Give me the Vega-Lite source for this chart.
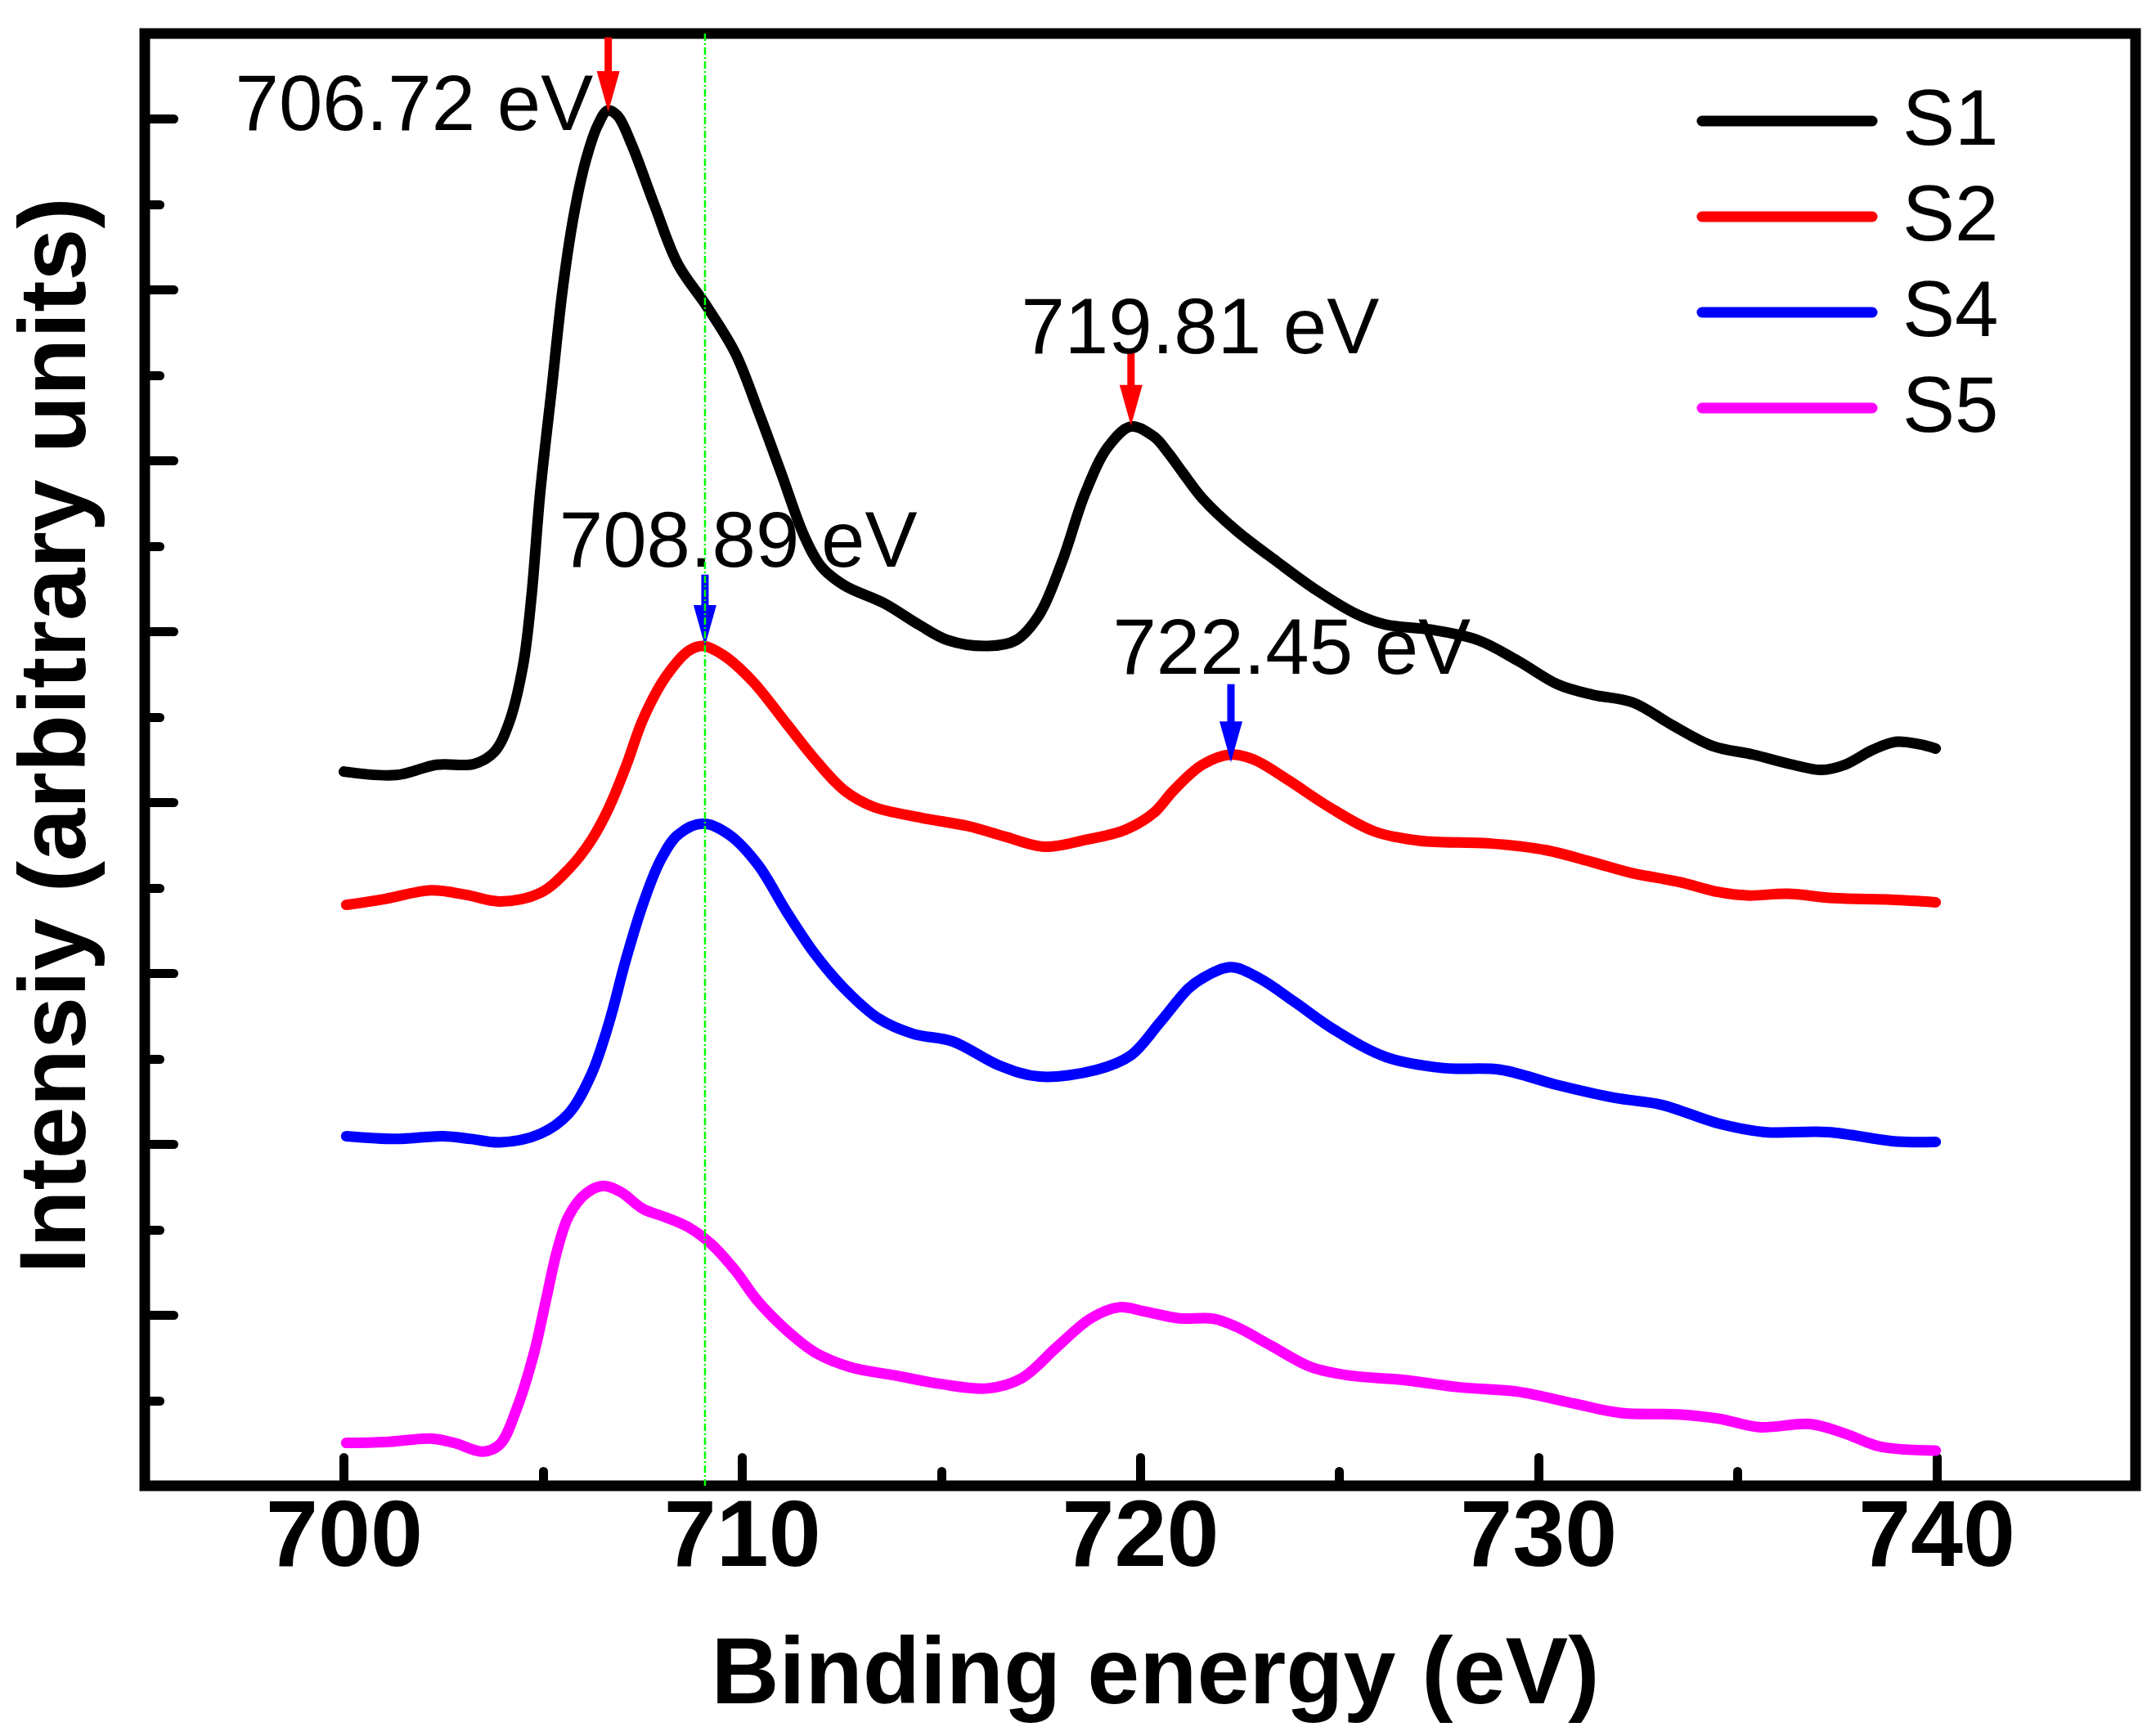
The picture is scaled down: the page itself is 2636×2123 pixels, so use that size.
{
  "$schema": "https://vega.github.io/schema/vega-lite/v6.json",
  "width": 2434,
  "height": 1776,
  "autosize": {"type": "none"},
  "padding": {"left": 177, "top": 41, "right": 25, "bottom": 306},
  "background": "white",
  "config": {
    "view": {"stroke": "black", "strokeWidth": 13},
    "axis": {"grid": false, "domain": false, "tickColor": "black", "tickWidth": 11, "tickCap": "round"}
  },
  "datasets": {
    "curves": [
      {"sample": "S1", "energy": 700.0, "intensity": 4.18},
      {"sample": "S1", "energy": 701.32, "intensity": 4.16},
      {"sample": "S1", "energy": 702.33, "intensity": 4.22},
      {"sample": "S1", "energy": 703.27, "intensity": 4.225},
      {"sample": "S1", "energy": 703.78, "intensity": 4.295},
      {"sample": "S1", "energy": 704.14, "intensity": 4.46},
      {"sample": "S1", "energy": 704.5, "intensity": 4.8},
      {"sample": "S1", "energy": 704.71, "intensity": 5.2},
      {"sample": "S1", "energy": 704.93, "intensity": 5.81},
      {"sample": "S1", "energy": 705.22, "intensity": 6.42},
      {"sample": "S1", "energy": 705.51, "intensity": 7.03},
      {"sample": "S1", "energy": 705.79, "intensity": 7.455},
      {"sample": "S1", "energy": 706.08, "intensity": 7.76},
      {"sample": "S1", "energy": 706.37, "intensity": 7.96},
      {"sample": "S1", "energy": 706.63, "intensity": 8.05},
      {"sample": "S1", "energy": 706.87, "intensity": 8.02},
      {"sample": "S1", "energy": 707.23, "intensity": 7.85},
      {"sample": "S1", "energy": 707.81, "intensity": 7.49},
      {"sample": "S1", "energy": 708.39, "intensity": 7.15},
      {"sample": "S1", "energy": 709.11, "intensity": 6.905},
      {"sample": "S1", "energy": 709.83, "intensity": 6.63},
      {"sample": "S1", "energy": 710.4, "intensity": 6.295},
      {"sample": "S1", "energy": 710.98, "intensity": 5.93},
      {"sample": "S1", "energy": 711.56, "intensity": 5.56},
      {"sample": "S1", "energy": 711.99, "intensity": 5.38},
      {"sample": "S1", "energy": 712.57, "intensity": 5.27},
      {"sample": "S1", "energy": 713.57, "intensity": 5.165},
      {"sample": "S1", "energy": 714.44, "intensity": 5.04},
      {"sample": "S1", "energy": 715.16, "intensity": 4.95},
      {"sample": "S1", "energy": 716.17, "intensity": 4.915},
      {"sample": "S1", "energy": 716.89, "intensity": 4.95},
      {"sample": "S1", "energy": 717.47, "intensity": 5.1},
      {"sample": "S1", "energy": 718.04, "intensity": 5.41},
      {"sample": "S1", "energy": 718.62, "intensity": 5.81},
      {"sample": "S1", "energy": 719.19, "intensity": 6.08},
      {"sample": "S1", "energy": 719.77, "intensity": 6.2},
      {"sample": "S1", "energy": 720.35, "intensity": 6.14},
      {"sample": "S1", "energy": 720.69, "intensity": 6.05},
      {"sample": "S1", "energy": 721.07, "intensity": 5.93},
      {"sample": "S1", "energy": 721.56, "intensity": 5.78},
      {"sample": "S1", "energy": 722.42, "intensity": 5.59},
      {"sample": "S1", "energy": 723.43, "intensity": 5.41},
      {"sample": "S1", "energy": 724.44, "intensity": 5.24},
      {"sample": "S1", "energy": 725.45, "intensity": 5.1},
      {"sample": "S1", "energy": 726.17, "intensity": 5.04},
      {"sample": "S1", "energy": 727.32, "intensity": 5.01},
      {"sample": "S1", "energy": 728.48, "intensity": 4.95},
      {"sample": "S1", "energy": 729.48, "intensity": 4.83},
      {"sample": "S1", "energy": 730.49, "intensity": 4.69},
      {"sample": "S1", "energy": 731.36, "intensity": 4.63},
      {"sample": "S1", "energy": 732.37, "intensity": 4.585},
      {"sample": "S1", "energy": 733.38, "intensity": 4.45},
      {"sample": "S1", "energy": 734.38, "intensity": 4.33},
      {"sample": "S1", "energy": 735.39, "intensity": 4.28},
      {"sample": "S1", "energy": 736.4, "intensity": 4.22},
      {"sample": "S1", "energy": 737.12, "intensity": 4.19},
      {"sample": "S1", "energy": 737.7, "intensity": 4.22},
      {"sample": "S1", "energy": 738.42, "intensity": 4.31},
      {"sample": "S1", "energy": 739.0, "intensity": 4.355},
      {"sample": "S1", "energy": 739.57, "intensity": 4.34},
      {"sample": "S1", "energy": 739.98, "intensity": 4.315},

      {"sample": "S2", "energy": 700.06, "intensity": 3.4},
      {"sample": "S2", "energy": 701.04, "intensity": 3.435},
      {"sample": "S2", "energy": 702.19, "intensity": 3.485},
      {"sample": "S2", "energy": 703.05, "intensity": 3.46},
      {"sample": "S2", "energy": 703.92, "intensity": 3.42},
      {"sample": "S2", "energy": 704.93, "intensity": 3.47},
      {"sample": "S2", "energy": 705.65, "intensity": 3.61},
      {"sample": "S2", "energy": 706.22, "intensity": 3.78},
      {"sample": "S2", "energy": 706.66, "intensity": 3.97},
      {"sample": "S2", "energy": 707.1, "intensity": 4.22},
      {"sample": "S2", "energy": 707.52, "intensity": 4.49},
      {"sample": "S2", "energy": 708.1, "intensity": 4.74},
      {"sample": "S2", "energy": 708.68, "intensity": 4.89},
      {"sample": "S2", "energy": 709.03, "intensity": 4.915},
      {"sample": "S2", "energy": 709.54, "intensity": 4.86},
      {"sample": "S2", "energy": 710.26, "intensity": 4.71},
      {"sample": "S2", "energy": 711.12, "intensity": 4.46},
      {"sample": "S2", "energy": 711.84, "intensity": 4.25},
      {"sample": "S2", "energy": 712.57, "intensity": 4.07},
      {"sample": "S2", "energy": 713.29, "intensity": 3.975},
      {"sample": "S2", "energy": 714.5, "intensity": 3.91},
      {"sample": "S2", "energy": 715.7, "intensity": 3.86},
      {"sample": "S2", "energy": 716.6, "intensity": 3.8},
      {"sample": "S2", "energy": 717.6, "intensity": 3.74},
      {"sample": "S2", "energy": 718.62, "intensity": 3.78},
      {"sample": "S2", "energy": 719.63, "intensity": 3.84},
      {"sample": "S2", "energy": 720.35, "intensity": 3.94},
      {"sample": "S2", "energy": 720.84, "intensity": 4.07},
      {"sample": "S2", "energy": 721.56, "intensity": 4.22},
      {"sample": "S2", "energy": 722.28, "intensity": 4.28},
      {"sample": "S2", "energy": 722.86, "intensity": 4.25},
      {"sample": "S2", "energy": 723.72, "intensity": 4.13},
      {"sample": "S2", "energy": 724.73, "intensity": 3.975},
      {"sample": "S2", "energy": 725.88, "intensity": 3.83},
      {"sample": "S2", "energy": 727.03, "intensity": 3.775},
      {"sample": "S2", "energy": 728.76, "intensity": 3.76},
      {"sample": "S2", "energy": 730.2, "intensity": 3.72},
      {"sample": "S2", "energy": 731.36, "intensity": 3.65},
      {"sample": "S2", "energy": 732.37, "intensity": 3.585},
      {"sample": "S2", "energy": 733.52, "intensity": 3.535},
      {"sample": "S2", "energy": 734.53, "intensity": 3.475},
      {"sample": "S2", "energy": 735.25, "intensity": 3.455},
      {"sample": "S2", "energy": 736.26, "intensity": 3.465},
      {"sample": "S2", "energy": 737.41, "intensity": 3.44},
      {"sample": "S2", "energy": 738.85, "intensity": 3.43},
      {"sample": "S2", "energy": 739.98, "intensity": 3.415},

      {"sample": "S4", "energy": 700.06, "intensity": 2.046},
      {"sample": "S4", "energy": 701.32, "intensity": 2.03},
      {"sample": "S4", "energy": 702.48, "intensity": 2.046},
      {"sample": "S4", "energy": 703.2, "intensity": 2.03},
      {"sample": "S4", "energy": 703.92, "intensity": 2.01},
      {"sample": "S4", "energy": 704.93, "intensity": 2.06},
      {"sample": "S4", "energy": 705.65, "intensity": 2.18},
      {"sample": "S4", "energy": 706.22, "intensity": 2.41},
      {"sample": "S4", "energy": 706.66, "intensity": 2.71},
      {"sample": "S4", "energy": 707.09, "intensity": 3.085},
      {"sample": "S4", "energy": 707.52, "intensity": 3.41},
      {"sample": "S4", "energy": 707.95, "intensity": 3.66},
      {"sample": "S4", "energy": 708.39, "intensity": 3.81},
      {"sample": "S4", "energy": 709.03, "intensity": 3.875},
      {"sample": "S4", "energy": 709.68, "intensity": 3.81},
      {"sample": "S4", "energy": 710.4, "intensity": 3.635},
      {"sample": "S4", "energy": 711.12, "intensity": 3.36},
      {"sample": "S4", "energy": 711.84, "intensity": 3.11},
      {"sample": "S4", "energy": 712.57, "intensity": 2.91},
      {"sample": "S4", "energy": 713.43, "intensity": 2.735},
      {"sample": "S4", "energy": 714.3, "intensity": 2.645},
      {"sample": "S4", "energy": 715.3, "intensity": 2.6},
      {"sample": "S4", "energy": 716.46, "intensity": 2.46},
      {"sample": "S4", "energy": 717.47, "intensity": 2.395},
      {"sample": "S4", "energy": 718.91, "intensity": 2.435},
      {"sample": "S4", "energy": 719.77, "intensity": 2.52},
      {"sample": "S4", "energy": 720.49, "intensity": 2.71},
      {"sample": "S4", "energy": 721.21, "intensity": 2.91},
      {"sample": "S4", "energy": 721.56, "intensity": 2.97},
      {"sample": "S4", "energy": 722.28, "intensity": 3.035},
      {"sample": "S4", "energy": 723.0, "intensity": 2.97},
      {"sample": "S4", "energy": 723.86, "intensity": 2.835},
      {"sample": "S4", "energy": 724.87, "intensity": 2.67},
      {"sample": "S4", "energy": 726.17, "intensity": 2.51},
      {"sample": "S4", "energy": 727.61, "intensity": 2.445},
      {"sample": "S4", "energy": 729.05, "intensity": 2.435},
      {"sample": "S4", "energy": 730.49, "intensity": 2.345},
      {"sample": "S4", "energy": 731.93, "intensity": 2.27},
      {"sample": "S4", "energy": 733.09, "intensity": 2.23},
      {"sample": "S4", "energy": 734.53, "intensity": 2.12},
      {"sample": "S4", "energy": 735.68, "intensity": 2.07},
      {"sample": "S4", "energy": 737.27, "intensity": 2.07},
      {"sample": "S4", "energy": 739.0, "intensity": 2.015},
      {"sample": "S4", "energy": 739.98, "intensity": 2.013},

      {"sample": "S5", "energy": 700.06, "intensity": 0.251},
      {"sample": "S5", "energy": 701.04, "intensity": 0.256},
      {"sample": "S5", "energy": 702.19, "intensity": 0.276},
      {"sample": "S5", "energy": 702.77, "intensity": 0.251},
      {"sample": "S5", "energy": 703.49, "intensity": 0.2},
      {"sample": "S5", "energy": 703.92, "intensity": 0.243},
      {"sample": "S5", "energy": 704.35, "intensity": 0.456},
      {"sample": "S5", "energy": 704.78, "intensity": 0.78},
      {"sample": "S5", "energy": 705.07, "intensity": 1.08},
      {"sample": "S5", "energy": 705.36, "intensity": 1.38},
      {"sample": "S5", "energy": 705.65, "intensity": 1.58},
      {"sample": "S5", "energy": 706.08, "intensity": 1.71},
      {"sample": "S5", "energy": 706.51, "intensity": 1.755},
      {"sample": "S5", "energy": 706.95, "intensity": 1.72},
      {"sample": "S5", "energy": 707.52, "intensity": 1.62},
      {"sample": "S5", "energy": 708.1, "intensity": 1.57},
      {"sample": "S5", "energy": 708.68, "intensity": 1.51},
      {"sample": "S5", "energy": 709.25, "intensity": 1.41},
      {"sample": "S5", "energy": 709.83, "intensity": 1.26},
      {"sample": "S5", "energy": 710.4, "intensity": 1.08},
      {"sample": "S5", "energy": 711.12, "intensity": 0.91},
      {"sample": "S5", "energy": 711.84, "intensity": 0.78},
      {"sample": "S5", "energy": 712.71, "intensity": 0.695},
      {"sample": "S5", "energy": 713.86, "intensity": 0.645},
      {"sample": "S5", "energy": 715.01, "intensity": 0.595},
      {"sample": "S5", "energy": 716.17, "intensity": 0.57},
      {"sample": "S5", "energy": 717.03, "intensity": 0.63},
      {"sample": "S5", "energy": 717.9, "intensity": 0.81},
      {"sample": "S5", "energy": 718.76, "intensity": 0.98},
      {"sample": "S5", "energy": 719.48, "intensity": 1.045},
      {"sample": "S5", "energy": 720.12, "intensity": 1.02},
      {"sample": "S5", "energy": 720.98, "intensity": 0.98},
      {"sample": "S5", "energy": 721.85, "intensity": 0.977},
      {"sample": "S5", "energy": 722.42, "intensity": 0.93},
      {"sample": "S5", "energy": 723.29, "intensity": 0.82},
      {"sample": "S5", "energy": 724.3, "intensity": 0.694},
      {"sample": "S5", "energy": 725.3, "intensity": 0.644},
      {"sample": "S5", "energy": 726.6, "intensity": 0.62},
      {"sample": "S5", "energy": 728.04, "intensity": 0.576},
      {"sample": "S5", "energy": 729.48, "intensity": 0.551},
      {"sample": "S5", "energy": 730.92, "intensity": 0.48},
      {"sample": "S5", "energy": 732.08, "intensity": 0.426},
      {"sample": "S5", "energy": 733.52, "intensity": 0.418},
      {"sample": "S5", "energy": 734.53, "intensity": 0.393},
      {"sample": "S5", "energy": 735.54, "intensity": 0.343},
      {"sample": "S5", "energy": 736.83, "intensity": 0.361},
      {"sample": "S5", "energy": 737.7, "intensity": 0.306},
      {"sample": "S5", "energy": 738.56, "intensity": 0.231},
      {"sample": "S5", "energy": 739.98, "intensity": 0.206}
    ],
    "arrows": [
      {"peakOf": "S1", "x": 706.64, "top": 8.478, "neck": 8.16, "tip": 8.04},
      {"peakOf": "S1", "x": 719.77, "top": 6.631, "neck": 6.32, "tip": 6.204},
      {"peakOf": "S2", "x": 709.07, "top": 5.333, "neck": 5.035, "tip": 4.915},
      {"peakOf": "S2", "x": 722.28, "top": 4.692, "neck": 4.354, "tip": 4.234}
    ],
    "notes": [
      {"label": "706.72 eV", "x": 697.27, "y": 7.935},
      {"label": "708.89 eV", "x": 705.41, "y": 5.379},
      {"label": "719.81 eV", "x": 717.01, "y": 6.631},
      {"label": "722.45 eV", "x": 719.31, "y": 4.754}
    ],
    "guide": [
      {"x": 709.07}
    ]
  },
  "layer": [
    {
      "data": {"name": "curves"},
      "mark": {"type": "line", "strokeWidth": 13, "interpolate": "catmull-rom", "strokeCap": "round", "strokeJoin": "round"},
      "encoding": {
        "x": {
          "field": "energy", "type": "quantitative",
          "scale": {"domain": [695, 745], "nice": false, "zero": false},
          "axis": {
            "orient": "bottom",
            "values": [700, 710, 720, 730, 740],
            "format": "d",
            "tickSize": -35,
            "labelFont": "Liberation Sans", "labelFontSize": 115, "labelFontWeight": "bold", "labelColor": "black",
            "labelBaseline": "alphabetic", "labelPadding": 132, "labelFlush": false, "labelOverlap": false, "labelLimit": 0,
            "title": "Binding energy (eV)",
            "titleFont": "Liberation Sans", "titleFontSize": 115, "titleFontWeight": "bold", "titleColor": "black",
            "titleX": 1235, "titleY": 265, "titleBaseline": "alphabetic", "titleAlign": "center", "titleLimit": 0
          }
        },
        "y": {
          "field": "intensity", "type": "quantitative",
          "scale": {"domain": [0, 8.5], "nice": false, "zero": false},
          "axis": {
            "orient": "left",
            "values": [1, 2, 3, 4, 5, 6, 7, 8],
            "tickSize": -35,
            "labels": false,
            "title": "Intensiy (arbitrary units)",
            "titleFont": "Liberation Sans", "titleFontSize": 115, "titleFontWeight": "bold", "titleColor": "black",
            "titleX": -74, "titleY": 858, "titleAngle": 270, "titleBaseline": "alphabetic", "titleAlign": "center", "titleLimit": 0
          }
        },
        "color": {
          "field": "sample", "type": "nominal",
          "scale": {"domain": ["S1", "S2", "S4", "S5"], "range": ["#000000", "#ff0000", "#0000ff", "#ff00ff"]},
          "legend": {
            "title": null,
            "orient": "none",
            "legendX": 1960,
            "legendY": 59,
            "padding": 0,
            "symbolType": "M-10,0H10",
            "symbolSize": 433,
            "symbolStrokeWidth": 13,
            "labelFont": "Liberation Sans",
            "labelFontSize": 96,
            "labelColor": "black",
            "labelOffset": 93,
            "rowPadding": 21,
            "encode": {"symbols": {"update": {"strokeCap": {"value": "round"}}}}
          }
        }
      }
    },
    {
      "data": {"name": "arrows"},
      "transform": [{"filter": "datum.peakOf === 'S1'"}],
      "mark": {"type": "rule", "color": "#ff0000", "strokeWidth": 9},
      "encoding": {
        "x": {
          "field": "x", "type": "quantitative",
          "scale": {"domain": [695, 745], "nice": false, "zero": false},
          "axis": {"orient": "bottom", "values": [705, 715, 725, 735], "tickSize": -18, "labels": false, "title": null}
        },
        "y": {
          "field": "top", "type": "quantitative",
          "scale": {"domain": [0, 8.5], "nice": false, "zero": false},
          "axis": {"orient": "left", "values": [0.5, 1.5, 2.5, 3.5, 4.5, 5.5, 6.5, 7.5], "tickSize": -18, "labels": false, "title": null}
        },
        "y2": {"field": "neck"}
      }
    },
    {
      "data": {"name": "arrows"},
      "transform": [{"filter": "datum.peakOf === 'S1'"}],
      "mark": {"type": "point", "shape": "M-0.56,-2L0.56,-2L0,0Z", "filled": true, "size": 2500, "color": "#ff0000", "opacity": 1, "strokeWidth": 0},
      "encoding": {
        "x": {"field": "x", "type": "quantitative", "scale": {"domain": [695, 745], "nice": false, "zero": false}, "axis": null},
        "y": {"field": "tip", "type": "quantitative", "scale": {"domain": [0, 8.5], "nice": false, "zero": false}, "axis": null}
      }
    },
    {
      "data": {"name": "arrows"},
      "transform": [{"filter": "datum.peakOf === 'S2'"}],
      "mark": {"type": "rule", "color": "#0000ff", "strokeWidth": 9},
      "encoding": {
        "x": {"field": "x", "type": "quantitative", "scale": {"domain": [695, 745], "nice": false, "zero": false}, "axis": null},
        "y": {"field": "top", "type": "quantitative", "scale": {"domain": [0, 8.5], "nice": false, "zero": false}, "axis": null},
        "y2": {"field": "neck"}
      }
    },
    {
      "data": {"name": "arrows"},
      "transform": [{"filter": "datum.peakOf === 'S2'"}],
      "mark": {"type": "point", "shape": "M-0.56,-2L0.56,-2L0,0Z", "filled": true, "size": 2500, "color": "#0000ff", "opacity": 1, "strokeWidth": 0},
      "encoding": {
        "x": {"field": "x", "type": "quantitative", "scale": {"domain": [695, 745], "nice": false, "zero": false}, "axis": null},
        "y": {"field": "tip", "type": "quantitative", "scale": {"domain": [0, 8.5], "nice": false, "zero": false}, "axis": null}
      }
    },
    {
      "data": {"name": "notes"},
      "mark": {"type": "text", "align": "left", "baseline": "alphabetic", "font": "Liberation Sans", "fontSize": 96, "color": "black"},
      "encoding": {
        "x": {"field": "x", "type": "quantitative", "scale": {"domain": [695, 745], "nice": false, "zero": false}, "axis": null},
        "y": {"field": "y", "type": "quantitative", "scale": {"domain": [0, 8.5], "nice": false, "zero": false}, "axis": null},
        "text": {"field": "label"}
      }
    },
    {
      "data": {"name": "guide"},
      "mark": {"type": "rule", "color": "#00ff00", "strokeWidth": 2.5, "strokeDash": [9, 3, 2, 3]},
      "encoding": {
        "x": {"field": "x", "type": "quantitative", "scale": {"domain": [695, 745], "nice": false, "zero": false}, "axis": null}
      }
    }
  ],
  "resolve": {"axis": {"x": "independent", "y": "independent"}}
}
